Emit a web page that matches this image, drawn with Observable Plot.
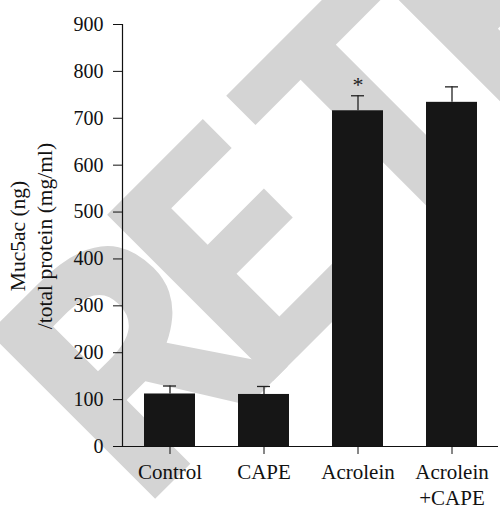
<!DOCTYPE html>
<html>
<head>
<meta charset="utf-8">
<script src="https://cdn.jsdelivr.net/npm/d3@7"></script>
<script src="https://cdn.jsdelivr.net/npm/@observablehq/plot@0.6"></script>
<style>
  html, body { margin: 0; padding: 0; background: #fff; overflow: hidden; }
  #chart svg { display: block; overflow: hidden; }
</style>
</head>
<body>
<div id="chart"></div>
<script>
const categories = ["Control", "CAPE", "Acrolein", "Acrolein\n+CAPE"];
const means = [112, 111, 716, 734];
const errors = [17, 17, 32, 33];
const marks = ["", "", "*", ""];
const yTicks = [0, 100, 200, 300, 400, 500, 600, 700, 800, 900];
const yLabelLines = ["Muc5ac (ng)", "/total protein (mg/ml)"];
const watermark = "RETRACTED";

const data = categories.map((c, i) => ({
  group: c, mean: means[i], err: errors[i], top: means[i] + errors[i], mark: marks[i]
}));

const W = 500, H = 507;
const font = "'Liberation Serif', 'Times New Roman', serif";

const chart = Plot.plot({
  width: W,
  height: H,
  marginLeft: 122,
  marginRight: 2,
  marginTop: 24,
  marginBottom: 61,
  style: { fontFamily: font, fontSize: "20px", background: "#fff", color: "#111" },
  x: { domain: categories, paddingInner: 0.46, paddingOuter: 0.22, label: null },
  y: { domain: [0, 900], label: null },
  marks: [
    Plot.barY(data, { x: "group", y: "mean", fill: "#161616" }),
    Plot.ruleX(data, { x: "group", y1: "mean", y2: "top", stroke: "#222", strokeWidth: 1.3 }),
    Plot.tickY(data, { x: "group", y: "top", stroke: "#222", strokeWidth: 1.3, insetLeft: 19, insetRight: 19 }),
    Plot.text(data, { x: "group", y: "top", text: "mark", fontSize: 22, dy: -4, lineAnchor: "bottom", fill: "#222" }),
    Plot.frame({ anchor: "left", stroke: "#111", strokeWidth: 1.2 }),
    Plot.ruleY([0], { stroke: "#111", strokeWidth: 1.2 }),
    Plot.axisY({ ticks: yTicks, tickSize: 9, tickPadding: 10, fontSize: 20, label: null, stroke: "#111" }),
    Plot.axisX({ tickSize: 8, tickPadding: 6, fontSize: 21, lineHeight: 1.24, label: null, stroke: "#111" })
  ]
});

const svg = d3.select(chart);

// watermark (behind everything), laid out along a -45° baseline
const em = 329;
const wm = svg.insert("text", ":first-child")
  .attr("transform", "translate(327,327) rotate(-45)")
  .attr("y", 0)
  .attr("text-anchor", "start")
  .attr("font-family", "'Open Sans', Roboto, 'Liberation Sans', sans-serif")
  .attr("font-weight", 700)
  .attr("font-size", em)
  .attr("fill", "#d4d4d4")
  .text(watermark);

// y-axis title (two lines, rotated)
const midY = 236;
const baselines = [25, 52];
yLabelLines.forEach((t, i) => {
  svg.append("text")
    .attr("transform", `translate(${baselines[i]},${midY}) rotate(-90)`)
    .attr("text-anchor", "middle")
    .attr("font-family", font)
    .attr("font-size", 21.5)
    .attr("fill", "#111")
    .text(t);
});

document.getElementById("chart").appendChild(chart);

// place the first glyphs individually so that stems sit where the reference shows them
const node = wm.node();
let wT = 0.57 * em;
try { wT = node.getSubStringLength(2, 1); } catch (e) {}
const lsb = 0.09 * em, stem = 54;
const starts = [-229 - stem - lsb + 40, -22 - stem - lsb, 181 - wT / 2, 302 - lsb - 20];
wm.attr("x", starts.join(" "));
</script>
</body>
</html>
